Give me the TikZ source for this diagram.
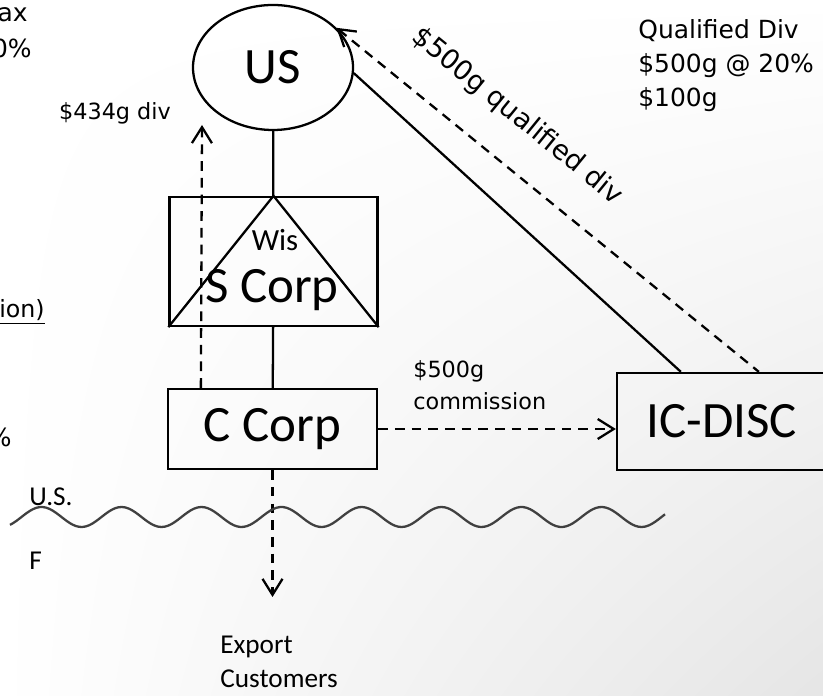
\documentclass[tikz,border=0pt]{standalone}
\usepackage{fontspec}
\setmainfont{Carlito}
\newfontfamily\notefont{DejaVu Sans}
\usepackage{tikz}
\usetikzlibrary{calc, positioning, shapes, shadings, arrows.meta}
\tikzstyle{Box}=[draw, line width=1.3pt, font=\fontsize{29}{32}\selectfont]
\tikzstyle{Link}=[draw, line width=1.3pt]
\tikzstyle{Flow}=[draw, line width=1.3pt, dash pattern=on 5.5pt off 4pt]
\tikzstyle{Note}=[font=\notefont\fontsize{12.7}{18.7}\selectfont, align=left, inner sep=0pt]
\tikzstyle{Side}=[font=\notefont\fontsize{14.2}{19.6}\selectfont, align=left, inner sep=0pt]
\tikzstyle{Place}=[font=\fontsize{15.5}{19.8}\selectfont, align=left, inner sep=0pt]

\begin{document}
\begin{tikzpicture}[>={Straight Barb[length=3.2mm, width=4mm]}]
		\useasboundingbox (0,0) rectangle (16.46,13.92);
		\shade[upper left=white, upper right=white, lower left=white, lower right=black!10] (0,0) rectangle (16.46,13.92);
		% entities
		\node[Box, ellipse, minimum width=3.2cm, minimum height=2.5cm] (US) at (5.46,12.57) {US};
		\node[Box, minimum width=4.16cm, minimum height=2.58cm] (S) at (5.47,8.69) {};
		\draw[Link] (S.south west) -- (S.north) -- (S.south east);
		\node[font=\fontsize{17.5}{20}\selectfont] (wis) at (5.50,9.12) {Wis};
		\node[font=\fontsize{29}{32}\selectfont] (scorp) at (5.44,8.12) {S Corp};
		\node[Box, minimum width=4.18cm, minimum height=1.6cm] (C) at (5.45,5.34) {C Corp};
		\node[Box, minimum width=4.2cm, minimum height=1.94cm] (D) at (14.44,5.49) {IC-DISC};
		\coordinate (divtip) at (4.04,11.42);
		\coordinate (exptip) at (5.45,1.98);
		% ownership
		\path (US) edge[Link] (S)
		(S) edge[Link] (C);
		\draw[Link] (US.-4) -- ([xshift=1.3cm]D.north west);
		% payments
		\draw[Flow, <-] (US.32) -- node[sloped, pos=0.36, above=0.62cm, inner sep=0pt, font=\notefont\fontsize{15.5}{18}\selectfont] (qdiv) {\$500g qualified div} ([xshift=2.86cm]D.north west);
		\draw[Flow, ->] ([xshift=0.68cm]C.north west) -- (divtip);
		\draw[Flow, ->] (C.east) -- (C.east -| D.west);
		\draw[Flow, ->] (C.south) -- (exptip);
		\node[Note] (div) at (2.30,11.66) {\$434g div};
		\node[Note, anchor=base west] (comm) at (8.26,5.72) {\$500g\\commission};
		\node[Side, anchor=base west] (qual) at (12.76,11.78) {Qualified Div\\\$500g @ 20\%\\\$100g};
		% border
		\draw[black!75, line width=1.3pt] plot[domain=0.2:13.3, samples=200, smooth] (\x, {3.58 + 0.2*sin(225*\x - 96.75)});
		\node[Place, anchor=base west] (us) at (0.58,3.80) {U.S.};
		\node[Place, anchor=base west] (f) at (0.58,2.52) {F};
		\node[Place, anchor=base west] (exp) at (4.40,0.16) {Export\\Customers};
		% cut-off notes at the left edge
		\node[Side, anchor=base east] (n1) at (0.56,13.48) {ax};
		\node[Side, anchor=base east] (n2) at (0.64,12.76) {0\%};
		\node[Side, anchor=base east, font=\notefont\fontsize{13.5}{18}\selectfont] (n3) at (0.90,7.56) {\underline{ion)}};
		\node[Side, anchor=base east] (n4) at (0.24,4.98) {\%};
\end{tikzpicture}
\end{document}
